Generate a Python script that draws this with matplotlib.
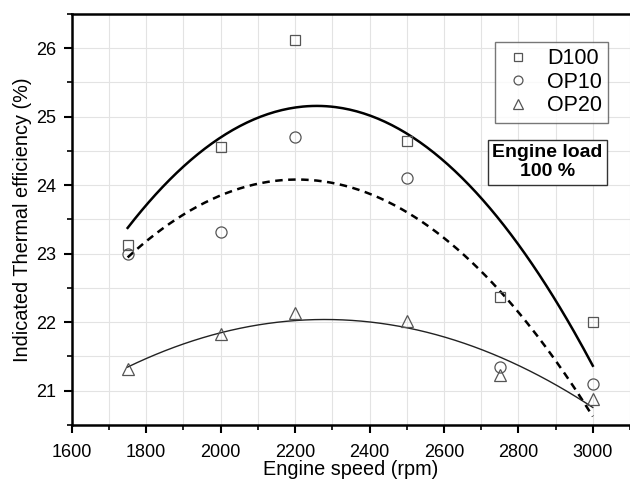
import numpy as np
import matplotlib.pyplot as plt
from matplotlib.ticker import MultipleLocator

plt.rcParams['font.family'] = ['Liberation Sans', 'DejaVu Sans']

# engine speed (rpm) and indicated thermal efficiency (%)
speed = [1750, 2000, 2200, 2500, 2750, 3000]
d100 = [23.12, 24.56, 26.12, 24.65, 22.36, 22.00]
op10 = [23.00, 23.31, 24.70, 24.11, 21.35, 21.09]
op20 = [21.31, 21.82, 22.13, 22.01, 21.22, 20.88]

fig = plt.figure(figsize=(6.3, 4.8), dpi=100)
ax = fig.add_axes([0.114, 0.115, 0.886, 0.856])

mk = dict(linestyle='none', markerfacecolor='none', markeredgecolor='#555555',
          markeredgewidth=0.9, zorder=4)
ax.plot(speed, d100, marker='s', markersize=7.5, label='D100', **mk)
ax.plot(speed, op10, marker='o', markersize=8, label='OP10', **mk)
ax.plot(speed, op20, marker='^', markersize=9, label='OP20', **mk)

# second order fits
xs = np.linspace(speed[0], speed[-1], 200)
ax.plot(xs, np.polyval(np.polyfit(speed, d100, 2), xs), color='black', lw=1.8, zorder=3)
ax.plot(xs, np.polyval(np.polyfit(speed, op10, 2), xs), color='black', lw=1.8,
        ls=(0, (3, 2.2)), zorder=3)
ax.plot(xs, np.polyval(np.polyfit(speed, op20, 2), xs), color='#222222', lw=1.0, zorder=3)

ax.set_xlim(1600, 3100)
ax.set_ylim(20.5, 26.5)
ax.xaxis.set_major_locator(MultipleLocator(200))
ax.xaxis.set_minor_locator(MultipleLocator(100))
ax.yaxis.set_major_locator(MultipleLocator(1))
ax.yaxis.set_minor_locator(MultipleLocator(0.5))
ax.grid(which='both', color='#e3e3e3', lw=0.8, zorder=0)
ax.set_axisbelow(True)

ax.spines['right'].set_visible(False)
for s in ['left', 'bottom', 'top']:
    ax.spines[s].set_linewidth(1.8)
ax.tick_params(which='major', direction='out', length=6, width=1.5, labelsize=13, pad=5)
ax.tick_params(axis='x', which='major', pad=8)
ax.tick_params(which='minor', direction='out', length=3.5, width=1.2)

ax.set_xlabel('Engine speed (rpm)', fontsize=14.3, labelpad=-1)
ax.set_ylabel('Indicated Thermal efficiency (%)', fontsize=14.3, labelpad=3)

leg = ax.legend(loc='upper right', bbox_to_anchor=(0.961, 0.932), borderaxespad=0,
                fontsize=15.5, frameon=True, fancybox=False, edgecolor='#555555',
                markerscale=0.8, handletextpad=0.6, borderpad=0.3, labelspacing=0.12,
                handlelength=1.5)
leg.get_frame().set_linewidth(1.0)

ax.text(0.852, 0.639, 'Engine load\n100 %', transform=ax.transAxes, ha='center', va='center',
        fontsize=14, fontweight='bold', linespacing=1.15,
        bbox=dict(boxstyle='square,pad=0.22', fc='white', ec='#333333', lw=1.0))

fig.savefig('out.png', dpi=100)
